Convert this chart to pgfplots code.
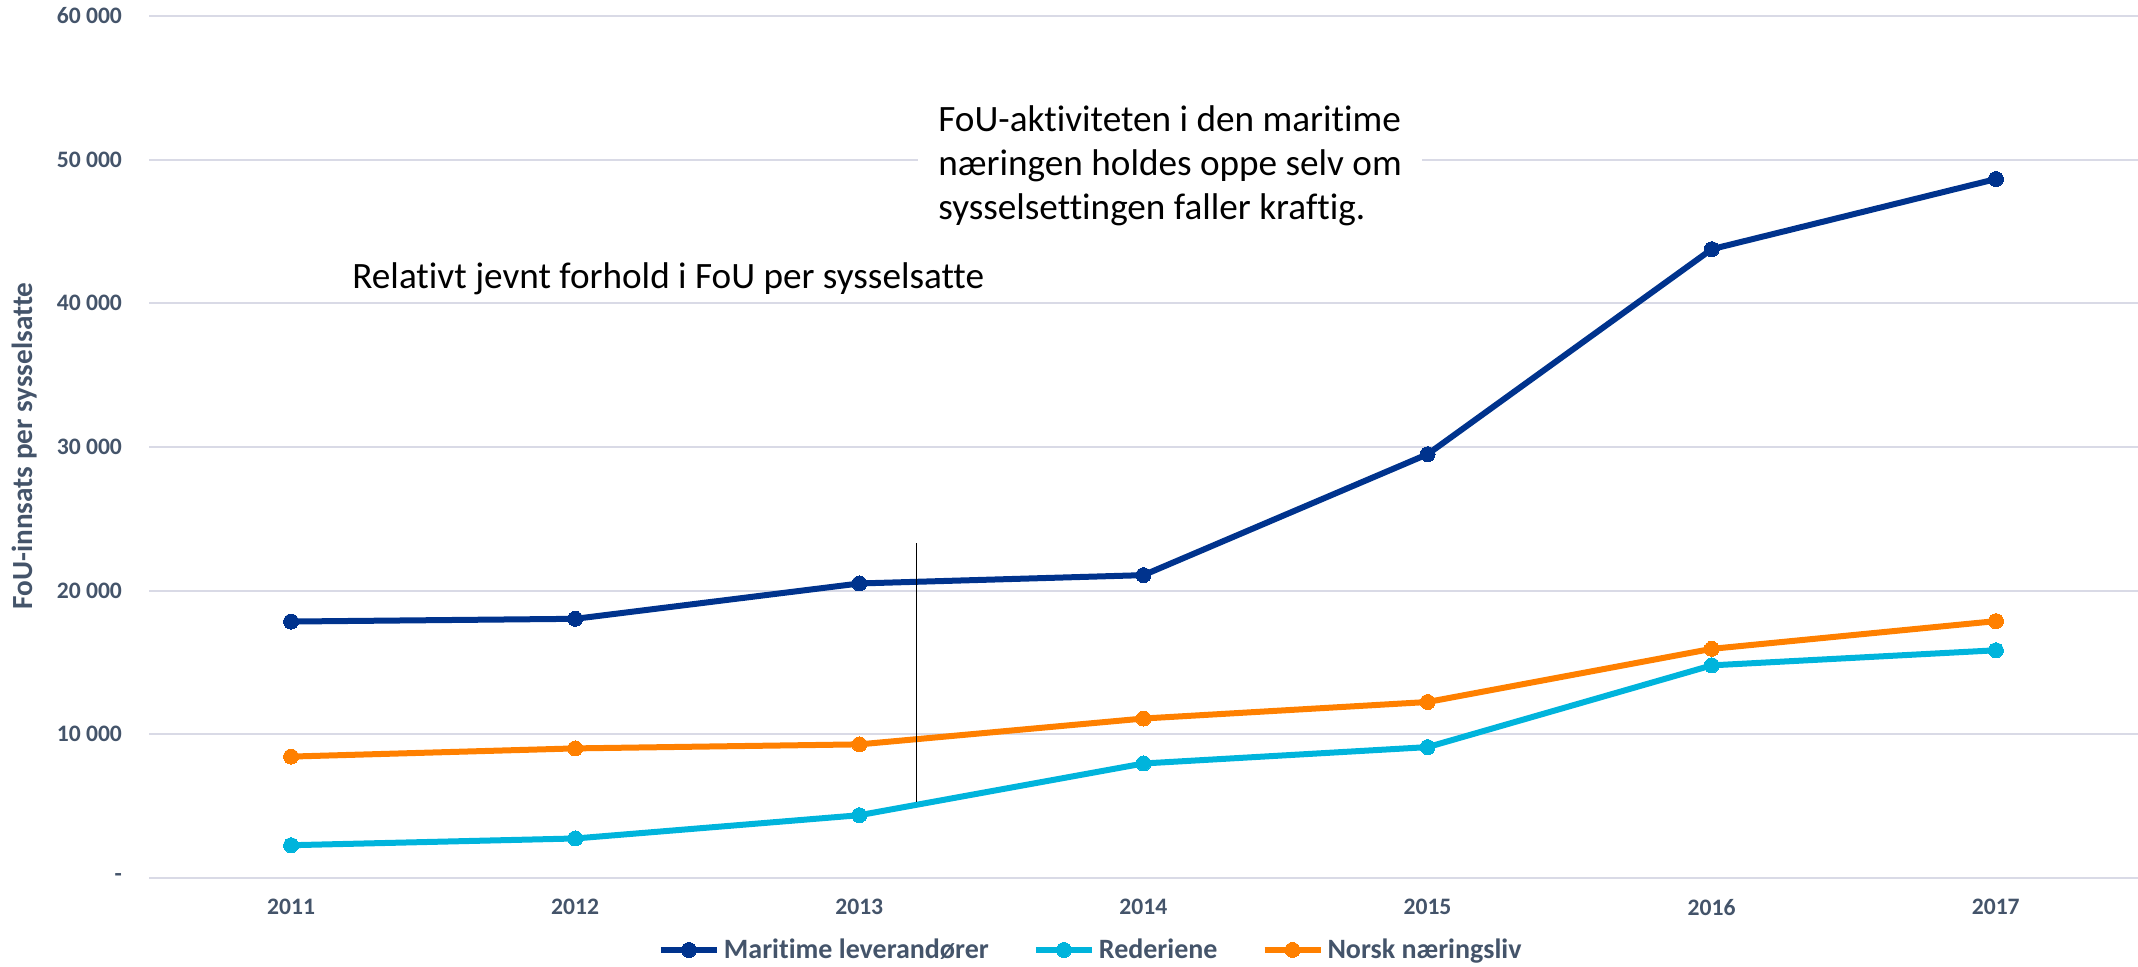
\documentclass[border=0pt]{standalone}
\usepackage{fontspec}
\setmainfont{Carlito}[Ligatures={NoCommon,NoContextual}]
\usepackage{pgfplots}
\pgfplotsset{compat=1.18}
\definecolor{navyc}{HTML}{00338D}
\definecolor{cyanc}{HTML}{00B4DC}
\definecolor{orangec}{HTML}{FF8000}
\definecolor{labelc}{HTML}{44546A}
\definecolor{gridc}{HTML}{D9DAE6}
\begin{document}
\begin{tikzpicture}
\useasboundingbox (0,0) rectangle (1069pt,483.5pt);
\begin{axis}[
  at={(74.5pt,44.5pt)}, anchor=south west,
  scale only axis, width=994.5pt, height=431pt,
  xmin=2010.5, xmax=2017.5, ymin=0, ymax=60000,
  xtick={2011,...,2017},
  xticklabels={2011,2012,2013,2014,2015,2016,2017},
  ytick={0,10000,20000,30000,40000,50000,60000},
  yticklabels={{-\hspace{5.5pt}},10 000,20 000,30 000,40 000,50 000,60 000},
  ymajorgrids, grid style={color=gridc, line width=1pt},
  axis line style={draw=none},
  major tick length=0pt,
  tick label style={font=\bfseries\fontsize{11.8}{14}\selectfont, text=labelc},
  xticklabel style={yshift=-7pt},
  yticklabel style={xshift=-10pt, inner ysep=0pt},
  clip=false,
  legend columns=-1,
  legend style={draw=none, fill=none, at={(0.474,-0.0835)}, anchor=center,
    font=\bfseries\fontsize{14}{16}\selectfont, text=labelc,
    /tikz/every even column/.append style={column sep=20pt},
    nodes={inner xsep=2pt}},
  legend image code/.code={\draw[mark repeat=2,mark phase=2,#1] plot coordinates {(0pt,0pt) (14pt,0pt) (28pt,0pt)};},
  every axis plot/.append style={line width=3pt, line join=round, mark=*, mark size=3.75pt},
]
\addplot[color=navyc, mark options={fill=navyc, line width=0pt}] coordinates {
  (2011,17850) (2012,18040) (2013,20500) (2014,21080) (2015,29500) (2016,43770) (2017,48650)};
\addlegendentry{Maritime leverandører}
\addplot[color=cyanc, mark options={fill=cyanc, line width=0pt}] coordinates {
  (2011,2280) (2012,2750) (2013,4370) (2014,7970) (2015,9110) (2016,14800) (2017,15850)};
\addlegendentry{Rederiene}
\addplot[color=orangec, mark options={fill=orangec, line width=0pt}] coordinates {
  (2011,8450) (2012,9020) (2013,9300) (2014,11100) (2015,12250) (2016,15950) (2017,17880)};
\addlegendentry{Norsk næringsliv}
\draw[black, line width=0.6pt] (axis cs:2013.202,23300) -- (axis cs:2013.202,5300);
\end{axis}
\node[rotate=90, font=\bfseries\fontsize{14.6}{16}\selectfont, text=labelc] at (12.5pt,260.5pt) {FoU-innsats per sysselsatte};
\node[anchor=west, inner sep=0pt, font=\fontsize{18.6}{22}\selectfont] at (176pt,344pt) {Relativt jevnt forhold i FoU per sysselsatte};
\node[anchor=north west, fill=white, align=left, inner xsep=10pt, inner ysep=1pt, font=\fontsize{18.6}{22}\selectfont] at (459pt,432pt) {FoU-aktiviteten i den maritime\\næringen holdes oppe selv om\\sysselsettingen faller kraftig.};
\end{tikzpicture}
\end{document}
